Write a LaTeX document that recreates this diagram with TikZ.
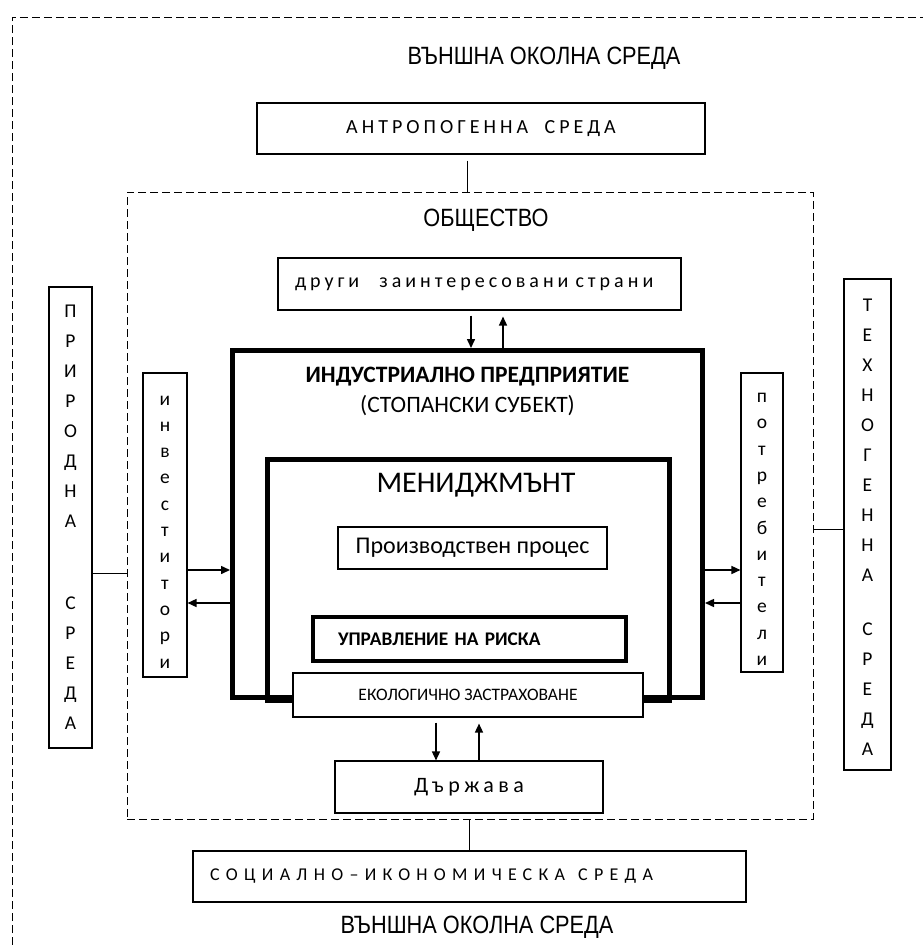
\documentclass[tikz,border=0pt]{standalone}
\usepackage{fontspec}
\setmainfont{Carlito}
\newfontfamily\narrowFont{Liberation Sans}[FakeStretch=0.87]
\newfontfamily\spacedFont{Carlito}[LetterSpace=20]
\newfontfamily\wideSpacedFont{Carlito}[LetterSpace=35]
\usetikzlibrary{arrows.meta}
\tikzstyle{pixelGrid} = [x = 1pt, y = -1pt]
\tikzstyle{thinBox} = [draw, line width = 1.1pt, inner sep = 0pt, align = center]
\tikzstyle{thickBox} = [draw, line width = 5pt, inner sep = 0pt]
\tikzstyle{zoneLine} = [line width = 1pt, dash pattern = on 8pt off 4pt]
\tikzstyle{linkLine} = [line width = 1pt]
\tikzstyle{flowArrow} = [line width = 1.5pt, -{Triangle[length = 9pt, width = 8pt]}]
\tikzstyle{zoneText} = [font = \narrowFont\fontsize{25}{25}\selectfont]
\tikzstyle{stackText} = [font = \fontsize{19.5}{30}\selectfont]
\tikzstyle{smallStackText} = [font = \fontsize{19.5}{26.3}\selectfont]
\tikzset{boxSize/.style 2 args = {minimum width = #1pt, minimum height = #2pt}}
\newcommand{\wordGap}[1]{\hspace{#1pt}}
\newcommand{\stackStrut}{\rule{0pt}{23pt}}

\begin{document}
\begin{tikzpicture}[pixelGrid]
  \useasboundingbox (0,0) rectangle (923,945);

  \draw [zoneLine] (12,945) -- (12,17) -- (923,17);
  \node [zoneText] (outerTop) at (544,58) {ВЪНШНА ОКОЛНА СРЕДА};
  \node [zoneText] (outerBottom) at (477,927) {ВЪНШНА ОКОЛНА СРЕДА};

  \node [thinBox, boxSize = {448}{51}, font = \spacedFont\fontsize{20}{24}\selectfont] (anthro) at (481,128.5) {АНТРОПОГЕННА\wordGap{8} СРЕДА};
  \node [draw, zoneLine, inner sep = 0pt, boxSize = {686}{627}] (society) at (470,505.5) {};
  \node [zoneText] (societyTitle) at (486,220) {ОБЩЕСТВО};

  \node [thinBox, boxSize = {403}{52}, text width = 369pt, inner xsep = 17pt, align = left, font = \spacedFont\fontsize{20}{24}\selectfont] (others) at (479.5,284) {други\wordGap{20}заинтересовани\wordGap{7}страни};

  \node [thickBox, boxSize = {470}{347}] (firm) at (467.5,524) {};
  \node [font = \bfseries\fontsize{23.5}{27}\selectfont] (firmTitle) at (467.5,377) {ИНДУСТРИАЛНО ПРЕДПРИЯТИЕ};
  \node [font = \fontsize{23.5}{27}\selectfont] (firmSub) at (467.5,406) {(СТОПАНСКИ СУБЕКТ)};

  \node [thickBox, boxSize = {402}{241}] (mgmt) at (468.5,579.5) {};
  \node [font = \fontsize{30}{34}\selectfont] (mgmtTitle) at (476,485) {МЕНИДЖМЪНТ};
  \node [thinBox, boxSize = {269}{42}, font = \fontsize{24}{28}\selectfont] (process) at (472.5,548) {Производствен процес};
  \node [draw, line width = 4pt, minimum height = 44pt, text width = 263pt, inner xsep = 25pt, align = left, font = \bfseries\fontsize{19.3}{22}\selectfont] (risk) at (469.5,639) {УПРАВЛЕНИЕ НА РИСКА};
  \node [thinBox, fill = white, boxSize = {350}{44}, font = \fontsize{17.5}{20}\selectfont] (eco) at (468,695) {ЕКОЛОГИЧНО ЗАСТРАХОВАНЕ};

  \node [thinBox, boxSize = {268}{52}, font = \spacedFont\fontsize{22}{26}\selectfont] (state) at (469,787) {Държава};
  \node [thinBox, boxSize = {553}{51}, text width = 519pt, inner xsep = 17pt, align = left, font = \wideSpacedFont\fontsize{18}{22}\selectfont] (socio) at (469.5,876.5) {СОЦИАЛНО–ИКОНОМИЧЕСКА\wordGap{7} СРЕДА};

  \node [thinBox, stackText, boxSize = {43}{461}] (nature) at (70.5,517.5) {П\\Р\\И\\Р\\О\\Д\\Н\\А\\[52pt]С\\Р\\Е\\Д\\А};
  \node [thinBox, stackText, boxSize = {47}{491}] (techno) at (867.5,524.5) {\rule{0pt}{18pt}Т\\Е\\Х\\Н\\О\\Г\\Е\\Н\\Н\\А\\[24pt]С\\Р\\Е\\Д\\А};
  \node [thinBox, smallStackText, boxSize = {44}{304}] (investors) at (165,525) {\stackStrut и\\н\\в\\е\\с\\т\\и\\т\\о\\р\\и};
  \node [thinBox, smallStackText, boxSize = {42}{299}] (consumers) at (762,522.5) {\stackStrut п\\о\\т\\р\\е\\б\\и\\т\\е\\л\\и};

  \coordinate (inLane) at (0,570);
  \coordinate (outLane) at (0,603);
  \coordinate (downLane) at (471,0);
  \coordinate (upLane) at (503,0);
  \coordinate (stateDown) at (436,0);
  \coordinate (stateUp) at (479,0);
  \coordinate (natureLane) at (0,573);
  \coordinate (technoLane) at (0,529);

  \draw [flowArrow, shorten <= 5pt] (others.south -| downLane) -- (firm.north -| downLane);
  \draw [flowArrow, shorten >= 6pt] (firm.north -| upLane) -- (others.south -| upLane);
  \draw [flowArrow] (investors.east |- inLane) -- (firm.west |- inLane);
  \draw [flowArrow] (firm.west |- outLane) -- (investors.east |- outLane);
  \draw [flowArrow] (firm.east |- inLane) -- (consumers.west |- inLane);
  \draw [flowArrow] (consumers.west |- outLane) -- (firm.east |- outLane);
  \draw [flowArrow, shorten <= 5pt] (eco.south -| stateDown) -- (state.north -| stateDown);
  \draw [flowArrow, shorten >= 6pt] (state.north -| stateUp) -- (eco.south -| stateUp);

  \draw [linkLine, shorten <= 6pt] ([xshift = -14pt]anthro.south) -- ([xshift = -14pt]anthro.south |- society.north);
  \draw [linkLine] (socio.north |- society.south) -- (socio.north);
  \draw [linkLine] (nature.east |- natureLane) -- (society.west |- natureLane);
  \draw [linkLine] (society.east |- technoLane) -- (techno.west |- technoLane);
\end{tikzpicture}
\end{document}
